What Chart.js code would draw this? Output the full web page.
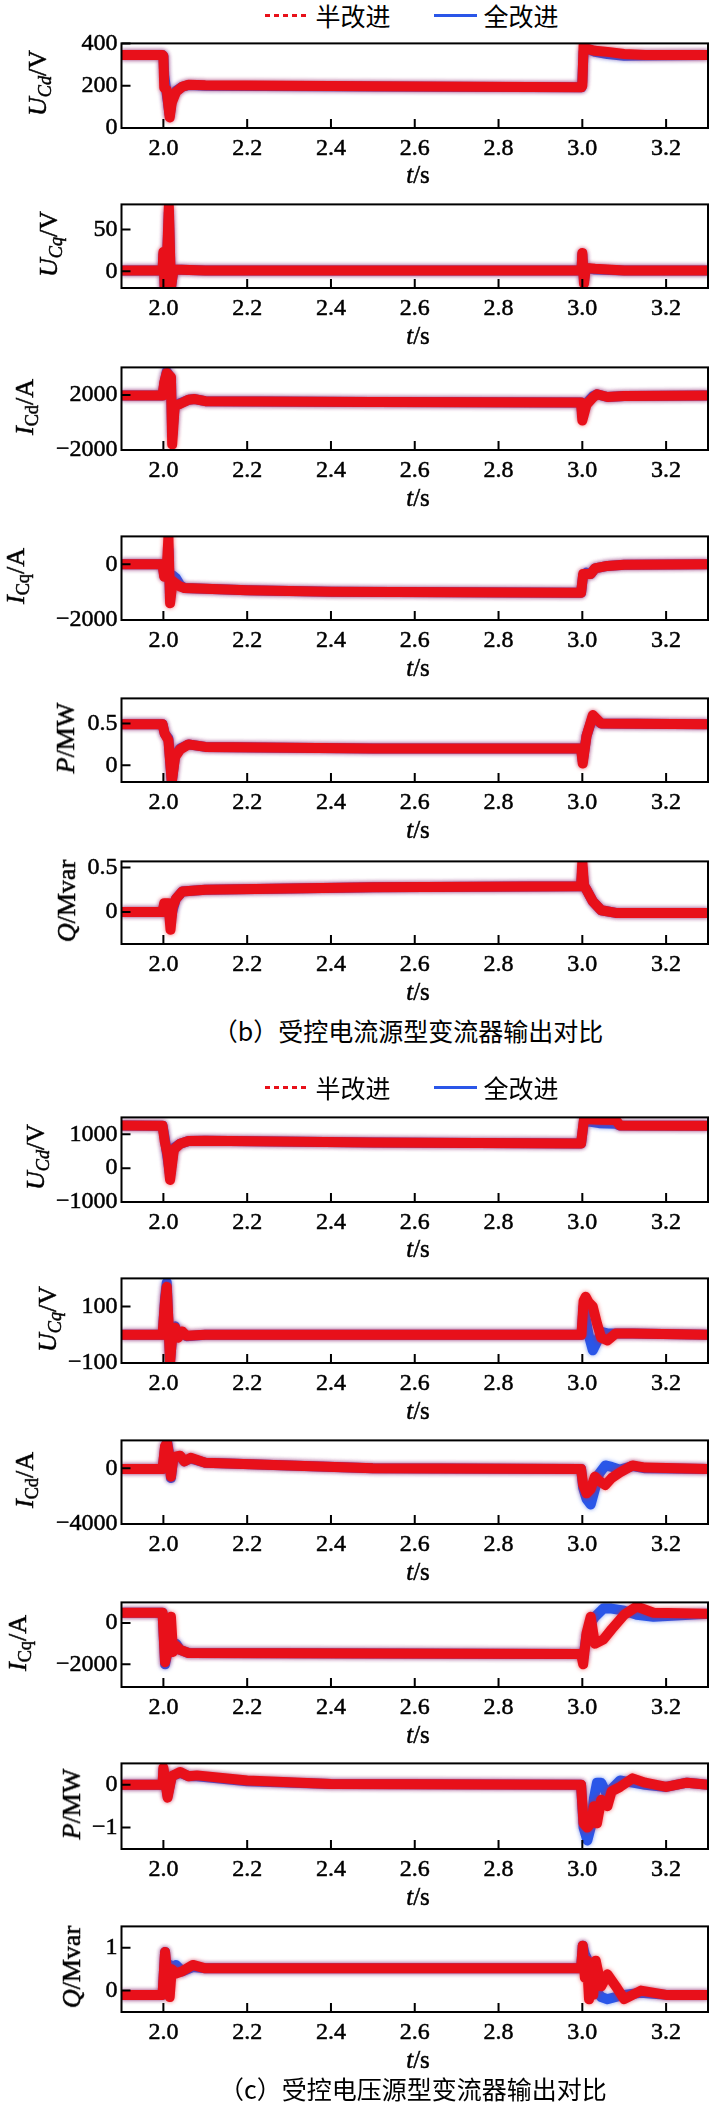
<!DOCTYPE html>
<html>
<head>
<meta charset="utf-8">
<script src="https://cdn.jsdelivr.net/npm/chart.js@4.4.1/dist/chart.umd.min.js"></script>
<style>
    body { margin: 0; background: #fff; }
    #fig { position: relative; width: 713px; height: 2106px; overflow: hidden;
           font-family: "Liberation Serif", "Times New Roman", serif; color: #000; }
    #fig canvas { position: absolute; left: 0; }
    .lbl { position: absolute; white-space: nowrap; font-size: 25px; line-height: 1;
           transform: translate(-50%, -50%); -webkit-text-stroke: 0.5px #000; }
    .ytitle { font-size: 26px; transform: translate(-50%, -50%) rotate(-90deg); }
    .cn { font-family: "Noto Sans CJK SC", sans-serif; -webkit-text-stroke: 0; }
    .key { position: absolute; height: 3px; }
    sub { font-size: 70%; vertical-align: -0.3em; line-height: 0; }
    #warm { position: absolute; left: -999px; top: 0; font-family: "Liberation Serif"; font-size: 24px; }
</style>
</head>
<body>
<div id="warm">0123456789.−</div>
<div id="fig"></div>
<script>
// time axis ticks (s)
const xTicks = [2.0, 2.2, 2.4, 2.6, 2.8, 3.0, 3.2];

// (b) controlled current source converter
const tUcdB    = [1.9, 1.998, 2.0, 2.002, 2.008, 2.015, 2.02, 2.03, 2.045, 2.06, 2.1, 2.5, 2.998, 3.0, 3.003, 3.01, 3.03, 3.06, 3.1, 3.15, 3.3];
const ucdBHalf = [345, 345, 340, 190, 180, 50, 120, 170, 195, 205, 202, 197, 193, 200, 390, 375, 365, 360, 350, 345, 345];
const ucdBFull = [345, 345, 340, 250, 160, 60, 130, 175, 195, 203, 200, 196, 193, 220, 360, 375, 360, 350, 342, 343, 345];
const ucdBTicks = [0, 200, 400];

const tUcqB    = [1.9, 1.998, 2.0, 2.003, 2.008, 2.013, 2.018, 2.024, 2.1, 2.998, 3.0, 3.004, 3.008, 3.03, 3.1, 3.3];
const ucqBHalf = [1, 1, 23, -20, 5, 78, -20, 2, 1, 1, 22, -15, 4, 3, 1, 1];
const ucqBFull = [1, 1, 20, -18, 5, 70, -20, 2, 1, 1, 20, -12, 4, 2, 1, 1];
const ucqBTicks = [0, 50];

const tIcdB    = [1.9, 1.998, 2.002, 2.008, 2.018, 2.021, 2.027, 2.04, 2.06, 2.075, 2.1, 2.5, 2.997, 3.0, 3.01, 3.025, 3.035, 3.06, 3.1, 3.3];
const icdBHalf = [1950, 1950, 2900, 3600, 3300, -1600, 1200, 1350, 1650, 1700, 1550, 1480, 1450, 150, 1300, 1800, 2050, 1850, 1920, 1950];
const icdBFull = [1950, 1950, 2800, 3700, 3200, -900, 1200, 1400, 1650, 1700, 1550, 1480, 1450, 500, 1400, 1900, 2050, 1850, 1920, 1950];
const icdBTicks = [-2000, 0, 2000, 4000];

const tIcqB    = [1.9, 1.998, 2.002, 2.008, 2.012, 2.016, 2.022, 2.03, 2.04, 2.05, 2.2, 2.4, 2.997, 3.002, 3.01, 3.02, 3.03, 3.06, 3.1, 3.3];
const icqBHalf = [0, 0, -450, -200, 1000, -1400, -600, -700, -800, -850, -930, -990, -1020, -350, -350, -350, -150, -60, -20, 0];
const icqBFull = [0, 0, -400, -300, 500, -1200, -400, -500, -750, -850, -930, -990, -1020, -400, -300, -350, -150, -60, -20, 0];
const icqBTicks = [-2000, -1000, 0, 1000];

const tPB    = [1.9, 1.998, 2.003, 2.012, 2.02, 2.028, 2.04, 2.06, 2.1, 2.5, 2.997, 3.001, 3.01, 3.025, 3.045, 3.3];
const pBHalf = [0.49, 0.49, 0.38, 0.3, -0.2, 0.1, 0.19, 0.25, 0.22, 0.2, 0.2, 0.02, 0.35, 0.6, 0.5, 0.49];
const pBFull = [0.49, 0.49, 0.38, 0.32, -0.2, 0.12, 0.2, 0.25, 0.22, 0.2, 0.2, 0.05, 0.35, 0.58, 0.5, 0.49];
const pBTicks = [0, 0.5];

const tQB    = [1.9, 1.998, 2.002, 2.012, 2.017, 2.022, 2.03, 2.045, 2.1, 2.5, 2.997, 3.0, 3.004, 3.01, 3.025, 3.045, 3.08, 3.3];
const qBHalf = [0, 0, 0.1, 0.1, -0.2, 0.05, 0.15, 0.23, 0.25, 0.28, 0.29, 0.57, 0.3, 0.25, 0.12, 0.02, -0.01, -0.01];
const qBFull = [0, 0, 0.08, 0.05, -0.1, 0.02, 0.15, 0.23, 0.25, 0.28, 0.29, 0.5, 0.3, 0.25, 0.12, 0.02, -0.01, -0.01];
const qBTicks = [0, 0.5];

// (c) controlled voltage source converter
const tUcdC    = [1.9, 1.998, 2.003, 2.01, 2.016, 2.025, 2.04, 2.06, 2.1, 2.5, 2.997, 3.004, 3.04, 3.08, 3.09, 3.3];
const ucdCHalf = [1260, 1250, 800, 400, -350, 550, 720, 800, 810, 760, 730, 1450, 1430, 1420, 1260, 1250];
const ucdCFull = [1260, 1250, 900, 300, -200, 600, 720, 800, 810, 760, 730, 1400, 1330, 1310, 1260, 1250];
const ucdCTicks = [-1000, 0, 1000];

const tUcqC    = [1.9, 1.998, 2.004, 2.008, 2.012, 2.016, 2.022, 2.028, 2.035, 2.045, 2.055, 2.1, 2.998, 3.003, 3.008, 3.015, 3.025, 3.035, 3.045, 3.06, 3.08, 3.12, 3.3];
const ucqCHalf = [0, 0, 120, 170, 50, -100, 20, 25, -10, 12, -3, 0, 0, 120, 135, 115, 100, 40, -10, -20, 5, 5, 0];
const ucqCFull = [0, 0, 130, 185, 40, -90, 10, 30, -5, 10, -5, 0, 0, 100, 60, 0, -55, -25, 10, 5, 5, 5, 0];
const ucqCTicks = [-100, 0, 100, 200];

const tIcdC    = [1.9, 1.998, 2.004, 2.009, 2.013, 2.018, 2.024, 2.04, 2.05, 2.065, 2.1, 2.3, 2.5, 2.997, 3.002, 3.01, 3.02, 3.03, 3.04, 3.055, 3.07, 3.09, 3.12, 3.15, 3.3];
const icdCHalf = [-50, -50, 1600, 1800, 1000, -600, 800, 900, 500, 750, 400, 200, 0, -50, -1200, -1800, -1500, -600, -900, -1200, -700, -300, 200, 50, -50];
const icdCFull = [-50, -50, 1500, 1900, 1200, -700, 800, 850, 500, 700, 400, 200, 0, -50, -1400, -2200, -2600, -1500, -400, 200, 100, -100, 150, 0, -50];
const icdCTicks = [-4000, -2000, 0, 2000];

const tIcqC    = [1.9, 1.998, 2.004, 2.012, 2.018, 2.023, 2.03, 2.04, 2.06, 2.997, 3.002, 3.01, 3.02, 3.03, 3.05, 3.07, 3.1, 3.13, 3.17, 3.3];
const icqCHalf = [500, 500, -1900, -1200, 300, -1400, -1100, -1300, -1450, -1500, -2000, -500, 300, -1000, -800, -300, 400, 800, 500, 450];
const icqCFull = [500, 500, -2000, -1200, -1000, -1100, -1000, -1300, -1450, -1500, -1700, -600, 0, 300, 700, 700, 600, 400, 300, 450];
const icqCTicks = [-2000, 0];

const tPC    = [1.9, 1.998, 2.0, 2.01, 2.02, 2.04, 2.06, 2.08, 2.2, 2.4, 2.997, 3.003, 3.012, 3.02, 3.028, 3.035, 3.045, 3.06, 3.07, 3.09, 3.12, 3.15, 3.2, 3.25, 3.3];
const pCHalf = [0, 0, 0.4, -0.3, 0.2, 0.3, 0.2, 0.22, 0.1, 0.02, 0, -0.9, -1.0, -0.9, -0.5, -0.9, -0.35, -0.5, -0.15, -0.05, 0.15, 0.05, -0.05, 0.05, 0];
const pCFull = [0, 0, 0.35, -0.25, 0.2, 0.28, 0.2, 0.2, 0.08, 0.02, 0, -1.0, -1.3, -1.0, -0.3, 0.05, 0.05, -0.25, -0.1, 0.1, 0.05, 0, -0.05, 0.05, 0];
const pCTicks = [-1, 0];

const tQC    = [1.9, 1.998, 2.004, 2.01, 2.015, 2.02, 2.03, 2.045, 2.07, 2.1, 2.997, 3.001, 3.006, 3.011, 3.016, 3.021, 3.026, 3.032, 3.045, 3.06, 3.08, 3.1, 3.14, 3.2, 3.3];
const qCHalf = [-0.1, -0.1, 0.9, 0.3, -0.15, 0.5, 0.4, 0.45, 0.6, 0.52, 0.52, 1.05, 0.3, 0.7, -0.2, 0.3, -0.1, 0.7, 0.1, 0.38, 0.1, -0.2, 0.0, -0.1, -0.1];
const qCFull = [-0.1, -0.1, 0.9, 0.1, 0.6, 0.4, 0.6, 0.45, 0.55, 0.52, 0.52, 1.05, 0.85, 0.75, 0.5, 0.3, 0.1, 0.0, -0.15, -0.2, -0.15, -0.1, -0.05, -0.1, -0.1];
const qCTicks = [0, 1];

const RED = '#e8101a';
const BLUE = '#2a56e8';
const TICK_FONT = { family: "'Liberation Serif', 'Times New Roman', serif", size: 24 };

// plot box of each panel in page pixels
const panels = [
    { top: 39,   bottom: 127.5, min: 0,     max: 400,  yt: ucdBTicks, t: tUcdB, half: ucdBHalf, full: ucdBFull, title: '<i>U</i><sub><i>Cd</i></sub>/V', tx: 38 },
    { top: 200,  bottom: 288,   min: -20,   max: 80,   yt: ucqBTicks, t: tUcqB, half: ucqBHalf, full: ucqBFull, title: '<i>U</i><sub><i>Cq</i></sub>/V', tx: 49 },
    { top: 363,  bottom: 450,   min: -2000, max: 4000, yt: icdBTicks, t: tIcdB, half: icdBHalf, full: icdBFull, title: '<i>I</i><sub>Cd</sub>/A', tx: 25 },
    { top: 532,  bottom: 620,   min: -2000, max: 1000, yt: icqBTicks, t: tIcqB, half: icqBHalf, full: icqBFull, title: '<i>I</i><sub>Cq</sub>/A', tx: 16 },
    { top: 694,  bottom: 782,   min: -0.2,  max: 0.8,  yt: pBTicks,   t: tPB,   half: pBHalf,   full: pBFull,   title: '<i>P</i>/MW', tx: 66 },
    { top: 857,  bottom: 944,   min: -0.36, max: 0.57, yt: qBTicks,   t: tQB,   half: qBHalf,   full: qBFull,   title: '<i>Q</i>/Mvar', tx: 67 },
    { top: 1113, bottom: 1201.5,min: -1000, max: 1500, yt: ucdCTicks, t: tUcdC, half: ucdCHalf, full: ucdCFull, title: '<i>U</i><sub><i>Cd</i></sub>/V', tx: 36 },
    { top: 1274, bottom: 1363,  min: -100,  max: 200,  yt: ucqCTicks, t: tUcqC, half: ucqCHalf, full: ucqCFull, title: '<i>U</i><sub><i>Cq</i></sub>/V', tx: 48 },
    { top: 1436, bottom: 1524,  min: -4000, max: 2000, yt: icdCTicks, t: tIcdC, half: icdCHalf, full: icdCFull, title: '<i>I</i><sub>Cd</sub>/A', tx: 25 },
    { top: 1598, bottom: 1687,  min: -3100, max: 1000, yt: icqCTicks, t: tIcqC, half: icqCHalf, full: icqCFull, title: '<i>I</i><sub>Cq</sub>/A', tx: 18 },
    { top: 1759, bottom: 1849,  min: -1.5,  max: 0.5,  yt: pCTicks,   t: tPC,   half: pCHalf,   full: pCFull,   title: '<i>P</i>/MW', tx: 72 },
    { top: 1922, bottom: 2012,  min: -0.5,  max: 1.5,  yt: qCTicks,   t: tQC,   half: qCHalf,   full: qCFull,   title: '<i>Q</i>/Mvar', tx: 72 }
];

const fig = document.getElementById('fig');
const PAD_TOP = 14;
const X_AXIS_H = 38;
const charts = [];

// soft edge on the thick traces, like the noisy bands of the original
const haloPlugin = {
    id: 'halo',
    beforeDatasetDraw(chart, args) {
        const ds = chart.data.datasets[args.index];
        chart.ctx.save();
        chart.ctx.shadowColor = ds.borderColor + '99';
        chart.ctx.shadowBlur = 4;
    },
    afterDatasetDraw(chart) {
        chart.ctx.restore();
    }
};

// frame and inward tick marks
const framePlugin = {
    id: 'frame',
    afterDatasetsDraw(chart) {
        const { ctx, chartArea: a, scales: { x, y } } = chart;
        ctx.save();
        ctx.strokeStyle = '#000';
        ctx.lineWidth = 2;
        ctx.strokeRect(a.left, a.top, a.right - a.left, a.bottom - a.top);
        ctx.beginPath();
        x.ticks.forEach(tk => {
            const px = x.getPixelForValue(tk.value);
            ctx.moveTo(px, a.bottom);
            ctx.lineTo(px, a.bottom - 9);
        });
        y.ticks.forEach(tk => {
            const py = y.getPixelForValue(tk.value);
            ctx.moveTo(a.left, py);
            ctx.lineTo(a.left + 9, py);
        });
        ctx.stroke();
        ctx.restore();
    }
};

function pts(t, v) {
    return t.map((x, i) => ({ x: x, y: v[i] }));
}

function fmtY(v) {
    return v < 0 ? '\u2212' + Math.abs(v) : String(v);
}

function addText(html, x, y, cls) {
    const d = document.createElement('div');
    d.className = 'lbl' + (cls ? ' ' + cls : '');
    d.style.left = x + 'px';
    d.style.top = y + 'px';
    d.innerHTML = html;
    fig.appendChild(d);
}

function addLegend(cy) {
    const red = document.createElement('div');
    red.className = 'key';
    red.style.cssText = 'left:265px;width:44px;top:' + (cy - 1.5) + 'px;' +
        'background:repeating-linear-gradient(90deg,' + RED + ' 0 5px,transparent 5px 9px);';
    fig.appendChild(red);
    addText('半改进', 353, cy, 'cn');
    const blue = document.createElement('div');
    blue.className = 'key';
    blue.style.cssText = 'left:434px;width:43px;top:' + (cy - 1.5) + 'px;background:' + BLUE + ';';
    fig.appendChild(blue);
    addText('全改进', 521, cy, 'cn');
}

function makePanel(p) {
    const h = (p.bottom - p.top) + PAD_TOP + X_AXIS_H;
    const canvas = document.createElement('canvas');
    canvas.width = 713;
    canvas.height = Math.round(h);
    canvas.style.top = (p.top - PAD_TOP) + 'px';
    canvas.style.width = '713px';
    canvas.style.height = Math.round(h) + 'px';
    fig.appendChild(canvas);

    const tickOpts = {
        font: TICK_FONT,
        color: '#000',
        textStrokeColor: '#000',
        textStrokeWidth: 0.5
    };

    charts.push(new Chart(canvas, {
        type: 'line',
        data: {
            datasets: [{
                label: '半改进',
                data: pts(p.t, p.half),
                borderColor: RED,
                borderWidth: 10,
                pointRadius: 0,
                tension: 0,
                borderJoinStyle: 'round',
                clip: 0
            }, {
                label: '全改进',
                data: pts(p.t, p.full),
                borderColor: BLUE,
                borderWidth: 10,
                pointRadius: 0,
                tension: 0,
                borderJoinStyle: 'round',
                clip: 0
            }]
        },
        options: {
            responsive: false,
            animation: false,
            devicePixelRatio: 1,
            layout: { padding: { top: PAD_TOP, right: 1.5, left: 0, bottom: 0 } },
            plugins: { legend: { display: false }, tooltip: { enabled: false } },
            scales: {
                x: {
                    type: 'linear',
                    min: 1.9,
                    max: 3.3,
                    afterBuildTicks: s => { s.ticks = xTicks.map(v => ({ value: v })); },
                    afterFit: s => { s.height = X_AXIS_H; },
                    grid: { display: false, drawTicks: false },
                    border: { display: false },
                    ticks: Object.assign({ padding: 6, maxRotation: 0, autoSkip: false,
                                           callback: v => v.toFixed(1) }, tickOpts)
                },
                y: {
                    type: 'linear',
                    min: p.min,
                    max: p.max,
                    afterBuildTicks: s => { s.ticks = p.yt.map(v => ({ value: v })); },
                    afterFit: s => { s.width = 121.5; },
                    grid: { display: false, drawTicks: false },
                    border: { display: false },
                    ticks: Object.assign({ padding: 4, callback: v => fmtY(v) }, tickOpts)
                }
            }
        },
        plugins: [haloPlugin, framePlugin]
    }));

    addText(p.title, p.tx, (p.top + p.bottom) / 2, 'ytitle');
    addText('<i>t</i>/s', 418, p.bottom + 46.5);
}

addLegend(15);
panels.forEach(makePanel);
addLegend(1087);
addText('（b）受控电流源型变流器输出对比', 408, 1030, 'cn');
addText('（c）受控电压源型变流器输出对比', 413, 2088, 'cn');

// canvas text does not trigger font loading, so redraw once the serif face is in
document.fonts.load('24px "Liberation Serif"').then(() => {
    charts.forEach(c => c.update('none'));
}).catch(() => {});
</script>
</body>
</html>
